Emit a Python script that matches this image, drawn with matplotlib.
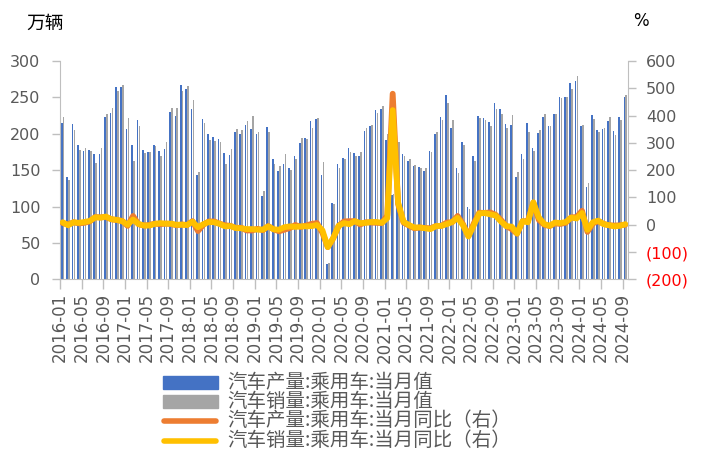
import matplotlib
matplotlib.use('Agg')
import matplotlib.pyplot as plt
import numpy as np
import pandas as pd
from matplotlib.patches import Rectangle
from matplotlib.lines import Line2D

plt.rcParams['font.family'] = ['Noto Sans CJK SC', 'DejaVu Sans']

months = pd.date_range('2016-01-01', '2024-09-01', freq='MS').strftime('%Y-%m').tolist()

# 汽车产量:乘用车:当月值 (万辆)
prod = [215, 140, 214, 184, 177, 178, 172, 172, 223, 229, 264, 264,
        207, 185, 219, 178, 175, 185, 176, 179, 230, 224, 267, 261,
        234, 143, 220, 200, 196, 193, 173, 171, 203, 200, 212, 207,
        200, 114, 209, 166, 149, 159, 153, 169, 187, 194, 218, 220,
        143, 21, 105, 159, 167, 180, 173, 170, 204, 210, 233, 234,
        191, 116, 185, 172, 162, 156, 155, 149, 177, 199, 223, 253,
        208, 153, 188, 100, 170, 224, 221, 216, 242, 234, 213, 212,
        140, 172, 215, 181, 201, 223, 211, 227, 250, 251, 270, 272,
        211, 127, 226, 205, 207, 218, 204, 223, 251]
# 汽车销量:乘用车:当月值 (万辆)
sales = [223, 137, 205, 178, 180, 177, 160, 180, 227, 235, 259, 267,
         222, 163, 211, 173, 175, 183, 169, 188, 235, 235, 259, 265,
         246, 148, 215, 191, 190, 188, 159, 179, 206, 205, 218, 224,
         202, 121, 202, 159, 156, 172, 150, 165, 194, 193, 208, 222,
         161, 22, 104, 153, 166, 175, 169, 175, 208, 212, 229, 238,
         200, 117, 188, 170, 165, 157, 153, 153, 175, 202, 219, 242,
         219, 146, 185, 97, 162, 221, 219, 211, 234, 227, 208, 226,
         148, 165, 202, 177, 205, 227, 210, 227, 249, 250, 261, 279,
         212, 133, 220, 203, 208, 223, 198, 219, 253]
# 当月同比 (%)
prod_yoy = [6, 1, 9, 5, 7, 12, 28, 27, 28, 20, 17, 14,
            -4, 32, 2, -3, -1, 4, 2, 4, 3, -2, 1, -1,
            13, -23, 0, 12, 12, 4, -2, -4, -12, -11, -21, -21,
            -15, -20, -5, -17, -24, -18, -12, -1, -8, -3, 3, 6,
            -29, -82, -50, -4, 12, 13, 13, 1, 9, 8, 7, 6,
            34, 480, 76, 8, -3, -13, -10, -12, -13, -5, -4, 8,
            9, 32, 2, -42, 5, 44, 43, 45, 37, 18, -5, -16,
            -33, 12, 14, 81, 18, 0, -5, 5, 3, 7, 27, 28,
            51, -26, 5, 13, 3, -2, -3, -2, 0]
sales_yoy = [9, -2, 9, 7, 10, 14, 27, 26, 30, 20, 18, 13,
             0, 19, 3, -3, -3, 3, 6, 4, 4, 0, 0, -1,
             11, -9, 2, 10, 9, 3, -6, -5, -12, -13, -16, -16,
             -18, -18, -6, -17, -18, -9, -6, -8, -6, -6, -5, -1,
             -20, -82, -49, -4, 6, 2, 13, 6, 7, 10, 10, 7,
             24, 420, 81, 11, -1, -10, -10, -13, -16, -5, -4, 2,
             10, 25, -2, -43, -2, 41, 43, 38, 34, 12, -5, -7,
             -32, 13, 9, 82, 27, 3, -4, 8, 6, 10, 26, 23,
             43, -19, 9, 15, 2, -2, -6, -4, 2]

tick_labels = months[::4]
left_ticks = [0, 50, 100, 150, 200, 250, 300]
right_ticks = [-200, -100, 0, 100, 200, 300, 400, 500, 600]
right_labels = ['(200)', '(100)', '0', '100', '200', '300', '400', '500', '600']

series_names = ['汽车产量:乘用车:当月值', '汽车销量:乘用车:当月值',
                '汽车产量:乘用车:当月同比（右）', '汽车销量:乘用车:当月同比（右）']

BLUE, GRAY, ORANGE, YELLOW = '#4472C4', '#A5A5A5', '#ED7D31', '#FFC000'
AXC, TXT = '#BFBFBF', '#595959'

W, H = 705, 455
fig = plt.figure(figsize=(W / 100, H / 100), dpi=100)
ax = fig.add_axes([60 / W, 1 - 279.3 / H, (628 - 60) / W, (279.3 - 61) / H])

x = np.arange(len(months)) + 0.5
ax.bar(x - 0.18, prod, width=0.3, color=BLUE, linewidth=0)
ax.bar(x + 0.18, sales, width=0.3, color=GRAY, linewidth=0)
ax.set_xlim(0, len(months))
ax.set_ylim(0, 300)
ax.set_yticks(left_ticks)
ax.set_yticklabels([str(v) for v in left_ticks], family='DejaVu Sans', fontsize=11.5, color=TXT)
ax.set_xticks(np.arange(0, len(months), 4))
ax.set_xticklabels(tick_labels, rotation=90, family='DejaVu Sans', fontsize=12, color=TXT)
ax.tick_params(axis='y', direction='out', length=6, width=1, color=AXC, pad=8)
ax.tick_params(axis='x', direction='out', length=7, width=1, color=AXC, pad=3)
for s in ['top', 'right']:
    ax.spines[s].set_visible(False)
for s in ['left', 'bottom']:
    ax.spines[s].set_color(AXC)

ax2 = ax.twinx()
ax2.plot(x, prod_yoy, color=ORANGE, lw=4.2, solid_capstyle='round', solid_joinstyle='round')
ax2.plot(x, sales_yoy, color=YELLOW, lw=4.2, solid_capstyle='round', solid_joinstyle='round')
ax2.set_ylim(-200, 600)
ax2.set_yticks(right_ticks)
ax2.set_yticklabels(right_labels, family='DejaVu Sans', fontsize=11.5, color=TXT)
for lab, v in zip(ax2.get_yticklabels(), right_ticks):
    if v < 0:
        lab.set_color('#FF0000')
ax2.tick_params(axis='y', direction='out', length=6, width=1, color=AXC, pad=7)
for s in ['top', 'left', 'bottom']:
    ax2.spines[s].set_visible(False)
ax2.spines['right'].set_color(AXC)

fig.text(26 / W, 1 - 23 / H, '万辆', fontsize=13.5, color='black', ha='left', va='center')
fig.text(641 / W, 1 - 21 / H, '%', fontsize=12, color='black', ha='center', va='center',
         family='DejaVu Sans')

# legend
rows = [382, 401.5, 421, 440.5]
colors = [BLUE, GRAY, ORANGE, YELLOW]
for i, (name, c) in enumerate(zip(series_names, colors)):
    yc = rows[i]
    if i < 2:
        fig.patches.append(Rectangle((163 / W, 1 - (yc + 6.5) / H), 55 / W, 13 / H,
                                     transform=fig.transFigure, color=c, figure=fig))
    else:
        fig.lines.append(Line2D([164 / W, 216 / W], [1 - yc / H, 1 - yc / H],
                                transform=fig.transFigure, color=c, lw=4.0,
                                solid_capstyle='round', figure=fig))
    fig.text(227 / W, 1 - yc / H, name, fontsize=14, color=TXT, ha='left', va='center')

fig.savefig('out.png', dpi=100)
